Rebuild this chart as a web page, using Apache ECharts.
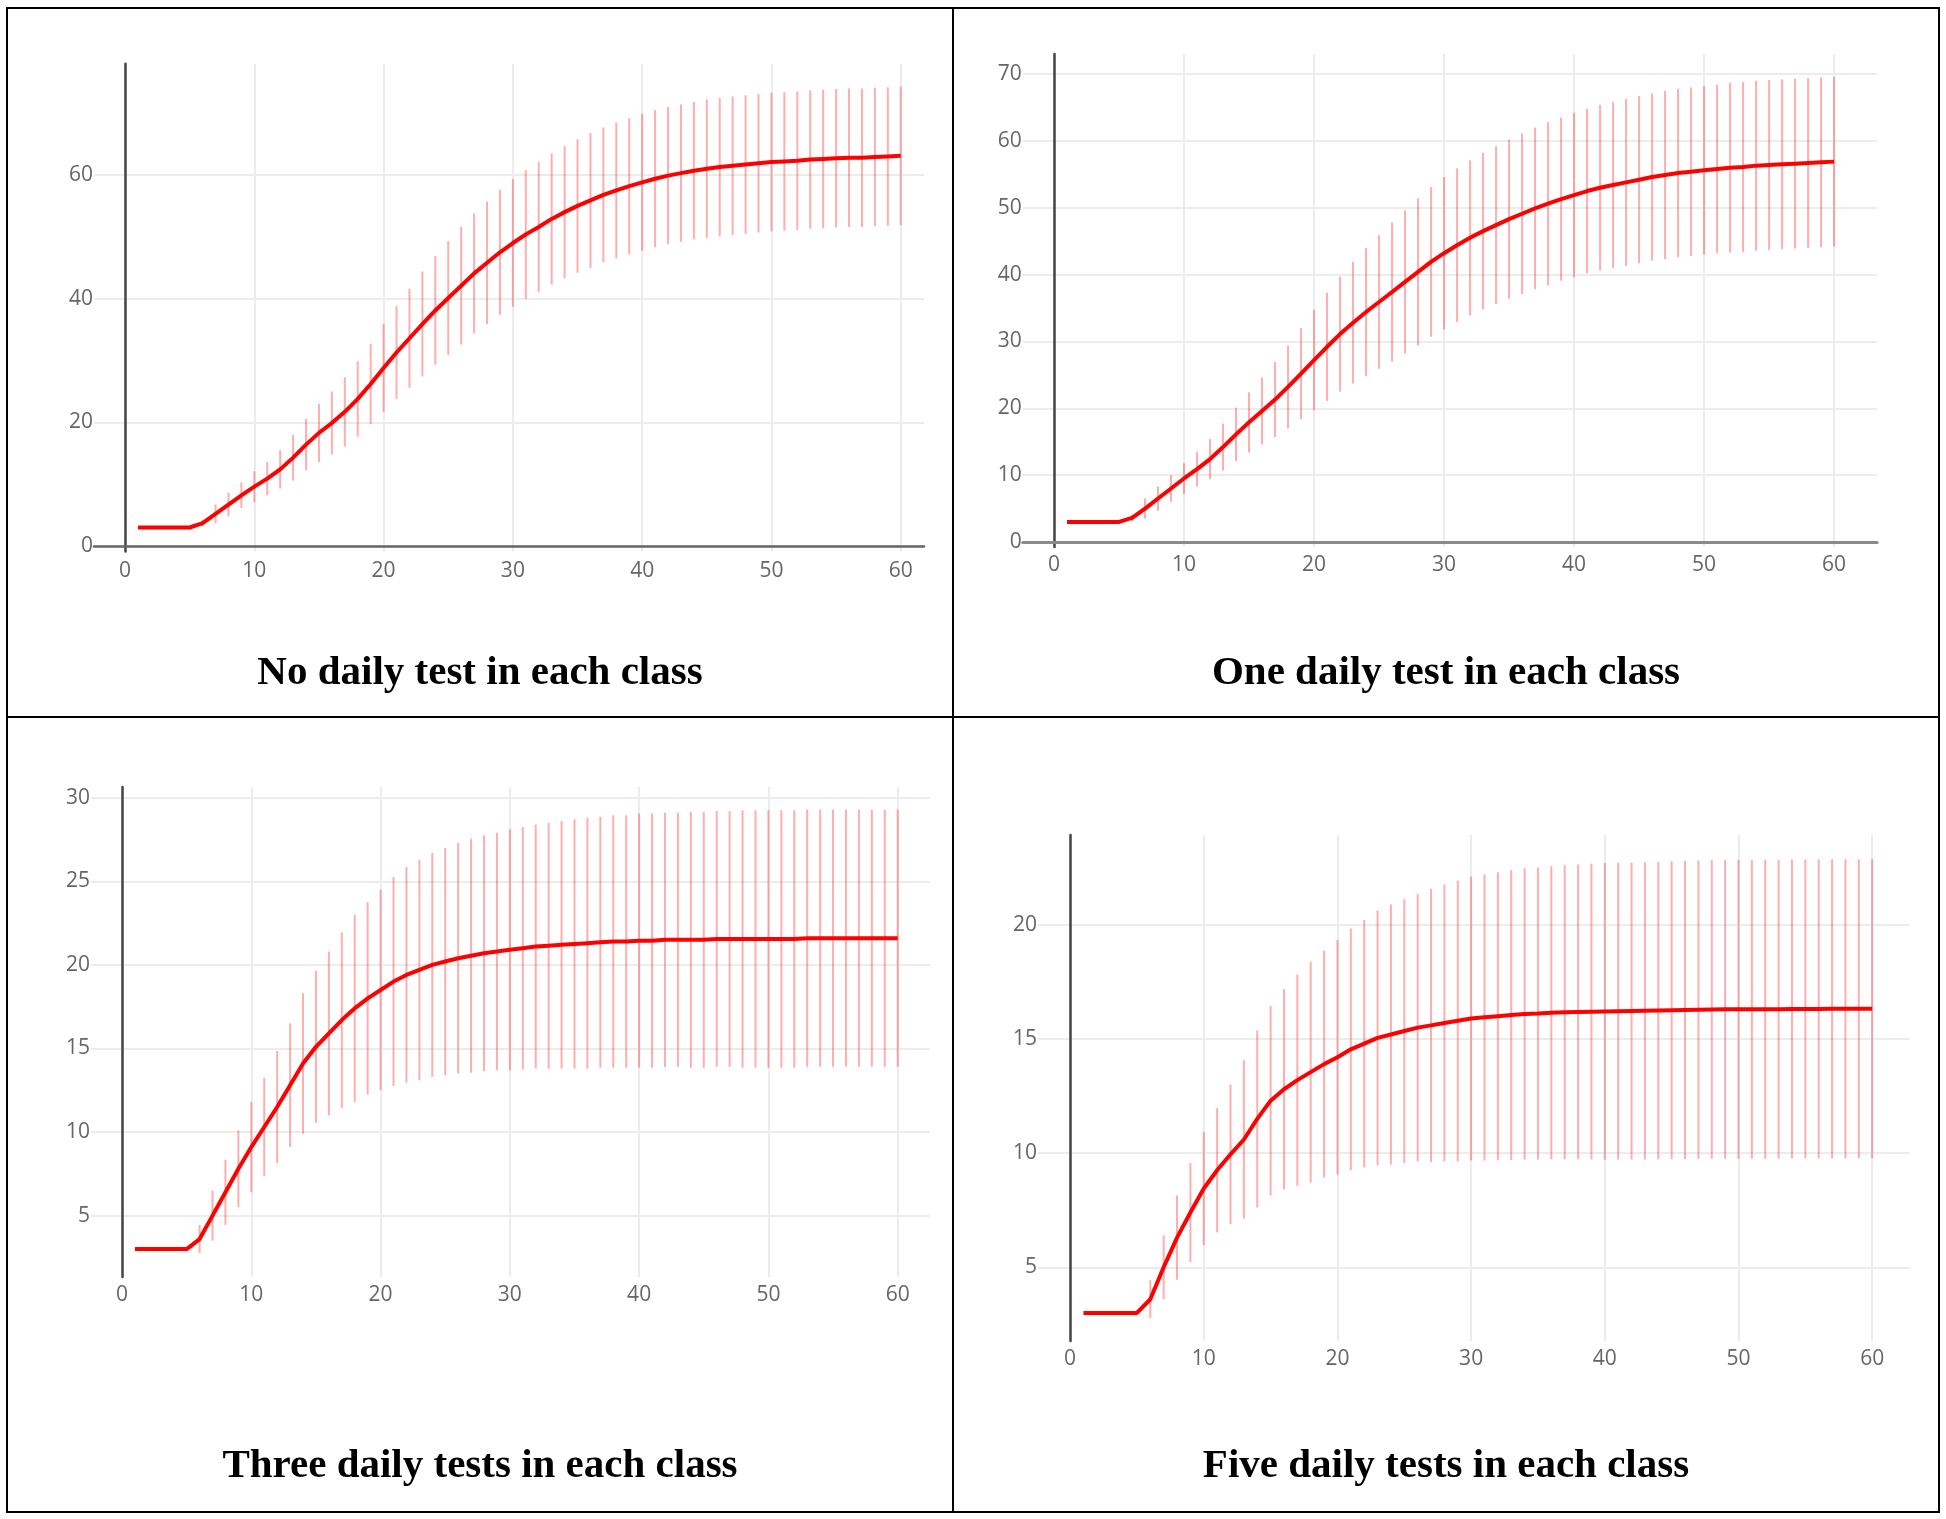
<!DOCTYPE html>
<html>
<head>
<meta charset="utf-8">
<script src="https://cdn.jsdelivr.net/npm/echarts@6/dist/echarts.min.js"></script>
<style>
  html, body { margin: 0; padding: 0; background: #fff; }
  #chart { width: 1946px; height: 1519px; }
</style>
</head>
<body>
<div id="chart"></div>
<script>
// days of the simulation (x values)
const days = [
  1, 2, 3, 4, 5, 6, 7, 8, 9, 10, 11, 12, 13, 14, 15, 16, 17, 18, 19, 20,
  21, 22, 23, 24, 25, 26, 27, 28, 29, 30, 31, 32, 33, 34, 35, 36, 37, 38, 39, 40,
  41, 42, 43, 44, 45, 46, 47, 48, 49, 50, 51, 52, 53, 54, 55, 56, 57, 58, 59, 60
];

// No daily test
const noTestMean = [
  3, 3, 3, 3, 3, 3.7, 5.2, 6.7, 8.2, 9.6,
  10.9, 12.4, 14.3, 16.4, 18.3, 19.9, 21.7, 23.8, 26.2, 28.8,
  31.3, 33.6, 35.9, 38.1, 40.1, 42.1, 44.1, 45.8, 47.5, 49.0,
  50.4, 51.6, 52.9, 54.0, 55.0, 55.9, 56.8, 57.5, 58.2, 58.8,
  59.4, 59.9, 60.3, 60.7, 61.0, 61.3, 61.5, 61.7, 61.9, 62.1,
  62.2, 62.3, 62.5, 62.6, 62.7, 62.8, 62.8, 62.9, 63.0, 63.1
];
const noTestErr = [
  0, 0, 0, 0, 0, 0.5, 1.5, 1.9, 2.1, 2.5,
  2.7, 3.1, 3.7, 4.2, 4.7, 5.1, 5.6, 6.1, 6.5, 7.1,
  7.5, 8.0, 8.5, 8.8, 9.2, 9.5, 9.7, 9.9, 10.1, 10.3,
  10.4, 10.5, 10.6, 10.7, 10.8, 10.9, 10.9, 11.0, 11.0, 11.1,
  11.1, 11.1, 11.1, 11.1, 11.2, 11.2, 11.2, 11.2, 11.2, 11.2,
  11.2, 11.2, 11.2, 11.2, 11.2, 11.2, 11.2, 11.2, 11.2, 11.2
];

// One daily test
const oneTestMean = [
  3, 3, 3, 3, 3, 3.6, 5.0, 6.5, 8.0, 9.5,
  10.9, 12.4, 14.2, 16.1, 17.9, 19.6, 21.3, 23.2, 25.2, 27.2,
  29.2, 31.1, 32.8, 34.4, 35.9, 37.4, 38.9, 40.4, 41.9, 43.2,
  44.4, 45.5, 46.5, 47.4, 48.3, 49.1, 49.9, 50.6, 51.3, 51.9,
  52.5, 53.0, 53.4, 53.8, 54.2, 54.6, 54.9, 55.2, 55.4, 55.6,
  55.8, 56.0, 56.1, 56.3, 56.4, 56.5, 56.6, 56.7, 56.8, 56.9
];
const oneTestErr = [
  0, 0, 0, 0, 0, 0.5, 1.5, 1.8, 2.0, 2.3,
  2.6, 3.0, 3.5, 4.0, 4.5, 5.0, 5.6, 6.2, 6.8, 7.5,
  8.1, 8.6, 9.1, 9.6, 10.0, 10.4, 10.7, 11.0, 11.2, 11.4,
  11.5, 11.6, 11.7, 11.8, 11.9, 12.0, 12.1, 12.2, 12.2, 12.3,
  12.3, 12.4, 12.4, 12.5, 12.5, 12.5, 12.6, 12.6, 12.6, 12.6,
  12.6, 12.7, 12.7, 12.7, 12.7, 12.7, 12.7, 12.7, 12.7, 12.7
];

// Three daily tests
const threeTestMean = [
  3, 3, 3, 3, 3, 3.6, 5.0, 6.4, 7.8, 9.1,
  10.3, 11.5, 12.8, 14.1, 15.1, 15.9, 16.7, 17.4, 18.0, 18.5,
  19.0, 19.4, 19.7, 20.0, 20.2, 20.4, 20.55, 20.7, 20.8, 20.9,
  21.0, 21.1, 21.15, 21.2, 21.25, 21.3, 21.35, 21.4, 21.4, 21.45,
  21.45, 21.5, 21.5, 21.5, 21.5, 21.55, 21.55, 21.55, 21.55, 21.55,
  21.55, 21.55, 21.6, 21.6, 21.6, 21.6, 21.6, 21.6, 21.6, 21.6
];
const threeTestErr = [
  0, 0, 0, 0, 0, 0.85, 1.5, 1.95, 2.3, 2.7,
  2.95, 3.35, 3.7, 4.2, 4.55, 4.9, 5.25, 5.6, 5.75, 6.0,
  6.25, 6.45, 6.6, 6.7, 6.8, 6.9, 7.0, 7.05, 7.1, 7.2,
  7.25, 7.3, 7.35, 7.4, 7.45, 7.5, 7.5, 7.55, 7.55, 7.6,
  7.6, 7.6, 7.6, 7.65, 7.65, 7.65, 7.65, 7.7, 7.7, 7.7,
  7.7, 7.7, 7.7, 7.7, 7.7, 7.7, 7.7, 7.7, 7.7, 7.7
];

// Five daily tests
const fiveTestMean = [
  3, 3, 3, 3, 3, 3.6, 5.0, 6.3, 7.4, 8.45,
  9.25, 9.95, 10.6, 11.5, 12.3, 12.8, 13.2, 13.55, 13.9, 14.2,
  14.55, 14.8, 15.05, 15.2, 15.35, 15.5, 15.6, 15.7, 15.8, 15.9,
  15.95, 16.0, 16.05, 16.1, 16.12, 16.15, 16.17, 16.19, 16.2, 16.21,
  16.22, 16.23, 16.24, 16.25, 16.26, 16.27, 16.28, 16.29, 16.3, 16.3,
  16.3, 16.31, 16.31, 16.32, 16.32, 16.32, 16.33, 16.33, 16.33, 16.33
];
const fiveTestErr = [
  0, 0, 0, 0, 0, 0.83, 1.4, 1.85, 2.17, 2.48,
  2.72, 3.06, 3.47, 3.88, 4.15, 4.39, 4.63, 4.84, 4.97, 5.14,
  5.3, 5.42, 5.58, 5.7, 5.78, 5.87, 5.99, 6.07, 6.15, 6.22,
  6.27, 6.31, 6.35, 6.38, 6.4, 6.42, 6.44, 6.46, 6.48, 6.5,
  6.5, 6.51, 6.52, 6.52, 6.53, 6.53, 6.54, 6.54, 6.54, 6.55,
  6.55, 6.55, 6.55, 6.55, 6.55, 6.55, 6.55, 6.55, 6.55, 6.55
];

const titles = [
  "No daily test in each class",
  "One daily test in each class",
  "Three daily tests in each class",
  "Five daily tests in each class"
];

const panels = [
  { mean: noTestMean, err: noTestErr, x: [-2.4, 61.8], y: [-0.9, 78], step: 20, xMargin: 9,
    grid: { left: 94, top: 63.7, width: 830, height: 487.9 }, cx: 480, ty: 673 },
  { mean: oneTestMean, err: oneTestErr, x: [-2.4, 63.3], y: [-0.75, 73], step: 10, xMargin: 8,
    grid: { left: 1022.8, top: 54, width: 854.2, height: 493 }, cx: 1446, ty: 673 },
  { mean: threeTestMean, err: threeTestErr, x: [-2.4, 62.5], y: [1.33, 30.64], step: 5, xMargin: 8,
    grid: { left: 91, top: 787, width: 839, height: 490 }, cx: 480, ty: 1466 },
  { mean: fiveTestMean, err: fiveTestErr, x: [-2.4, 62.8], y: [1.77, 23.94], step: 5, xMargin: 8,
    grid: { left: 1038, top: 835, width: 871.6, height: 506 }, cx: 1446, ty: 1466 }
];

const tickFont = { color: "#666", fontFamily: "Open Sans", fontSize: 21 };
const gridLine = { color: "#ececec", width: 2 };

const chart = echarts.init(document.getElementById("chart"), null, { renderer: "canvas" });

const grids = [], xAxes = [], yAxes = [], series = [], texts = [];

panels.forEach((p, i) => {
  const hasZero = p.y[0] < 0;
  grids.push(Object.assign({ outerBoundsMode: "none", containLabel: false }, p.grid));
  xAxes.push({
    type: "value", gridIndex: i, min: p.x[0], max: p.x[1],
    minInterval: 10, maxInterval: 10,
    axisLine: { show: hasZero, onZero: true, lineStyle: { color: i === 1 ? "#8a8a8a" : "#666", width: i === 1 ? 3 : 2.5 } },
    axisTick: { show: false },
    axisLabel: Object.assign({ margin: p.xMargin, showMinLabel: false, showMaxLabel: false }, tickFont),
    splitLine: { show: true, showMinLine: false, showMaxLine: false, lineStyle: gridLine }
  });
  yAxes.push({
    type: "value", gridIndex: i, min: p.y[0], max: p.y[1],
    minInterval: p.step, maxInterval: p.step,
    axisLine: { show: true, onZero: true, lineStyle: { color: "#444", width: 2.5 } },
    axisTick: { show: false },
    axisLabel: Object.assign({ margin: 1, showMinLabel: false, showMaxLabel: false }, tickFont),
    splitLine: { show: true, showMinLine: false, showMaxLine: false, lineStyle: gridLine }
  });
  series.push({
    type: "custom", xAxisIndex: i, yAxisIndex: i, z: 2, clip: true,
    encode: { x: 0, y: [1, 2] },
    data: days.map((d, k) => [d, p.mean[k] - p.err[k], p.mean[k] + p.err[k]]),
    renderItem: (params, api) => {
      const lo = api.coord([api.value(0), api.value(1)]);
      const hi = api.coord([api.value(0), api.value(2)]);
      if (Math.abs(lo[1] - hi[1]) < 0.5) return null;
      return {
        type: "line",
        shape: { x1: lo[0], y1: lo[1], x2: hi[0], y2: hi[1] },
        style: { stroke: "rgba(255,0,0,0.32)", lineWidth: 2 }
      };
    }
  });
  series.push({
    type: "line", xAxisIndex: i, yAxisIndex: i, z: 3,
    data: days.map((d, k) => [d, p.mean[k]]),
    showSymbol: false, symbol: "none",
    lineStyle: { color: "#ff0000", width: 4 }
  });
  texts.push({
    type: "text", x: p.cx, y: p.ty,
    style: {
      text: titles[i], align: "center", verticalAlign: "middle",
      font: "bold 41px 'Liberation Serif', 'Times New Roman', serif", fill: "#000"
    }
  });
});

// panel frame
const frame = [
  { type: "rect", shape: { x: 7, y: 8, width: 1932, height: 1504 }, style: { fill: null, stroke: "#000", lineWidth: 2 } },
  { type: "line", shape: { x1: 953, y1: 8, x2: 953, y2: 1512 }, style: { stroke: "#000", lineWidth: 2 } },
  { type: "line", shape: { x1: 7, y1: 717, x2: 1939, y2: 717 }, style: { stroke: "#000", lineWidth: 2 } }
];

chart.setOption({
  backgroundColor: "#fff",
  animation: false,
  grid: grids,
  xAxis: xAxes,
  yAxis: yAxes,
  series: series,
  graphic: frame.concat(texts)
});
</script>
</body>
</html>
